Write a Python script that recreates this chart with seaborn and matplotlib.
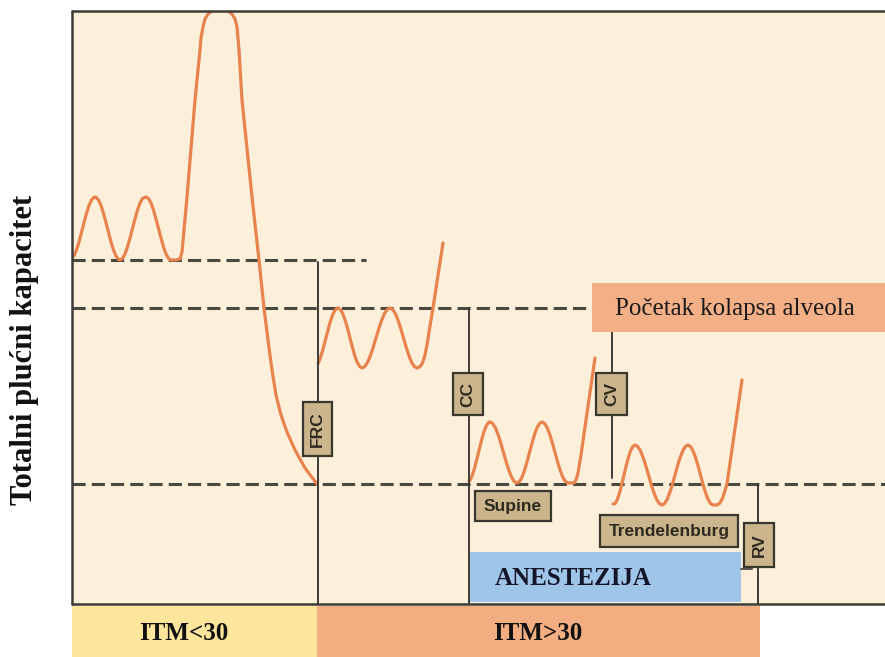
import matplotlib
matplotlib.use("Agg")
import matplotlib.pyplot as plt
import pandas as pd
import seaborn as sns
from matplotlib.patches import Rectangle

# ---------------- data (x = time, y = depth below the TLC line, image units) -------------
normal_x = [74, 76.5, 79, 81.5, 84, 86.5, 89, 91.5, 94, 95, 96, 98.5, 101, 103.5, 106, 108.5,
            111, 113.5, 116, 118.5, 120, 122.5, 125, 127.5, 130, 132.5, 135, 137.5, 140,
            142.5, 145, 146, 148.5, 151, 153.5, 156, 158.5, 161, 163.5, 166, 168.5, 171, 176,
            180, 182, 187, 195, 200, 201, 203, 205, 208, 212, 220, 228, 232, 235, 237, 238,
            239, 242, 252, 259, 264, 268, 272, 276, 281, 287, 295, 305, 317]
normal_y = [256, 250, 242, 232.4, 222.6, 213.4, 205.5, 200, 197.3, 197, 197.3, 200, 205.5, 213.4,
            222.6, 232.4, 242, 250, 256, 259.5, 260, 258.5, 254, 247, 238, 228.5, 219, 210, 203,
            198.5, 197.2, 197, 198.5, 203, 210, 219, 228.5, 238, 247, 254, 258.5, 260, 260,
            259, 252, 197, 100, 50, 38, 27, 19, 14, 11, 10, 11, 14, 19, 27, 38,
            50, 100, 197, 260, 308, 340, 370, 395, 415, 432, 450, 468, 484]

obese_x = [318, 320.4, 322.8, 325.2, 327.6, 330, 332.4, 334.8, 337.2, 338, 340.4, 342.8, 345.2,
           347.6, 350, 352.4, 354.8, 357.2, 359.6, 362, 364.8, 367.6, 370.4, 373.2, 376, 378.8,
           381.6, 384.4, 387.2, 390, 392.7, 395.4, 398.1, 400.8, 403.5, 406.2, 408.9, 411.6,
           414.3, 417, 419.5, 422, 424.5, 427, 430, 433, 443]
obese_y = [363.8, 357.8, 349.9, 340.8, 331.5, 322.7, 315.5, 310.5, 308.1, 308, 309.5, 313.7,
           320.4, 328.7, 338, 347.3, 355.6, 362.3, 366.5, 368, 366.5, 362.3, 355.6, 347.3, 338,
           328.7, 320.4, 313.7, 309.5, 308, 309.5, 313.7, 320.4, 328.7, 338, 347.3, 355.6,
           362.3, 366.5, 368, 367, 364, 357, 345, 326, 308, 243]

supine_x = [469, 470.2, 472.5, 474.8, 477.1, 479.4, 481.7, 484, 486.3, 488.6, 490, 492.7, 495.4,
            498.1, 500.8, 503.5, 506.2, 508.9, 511.6, 514.3, 517, 519.5, 522, 524.5, 527, 529.5,
            532, 534.5, 537, 539.5, 542, 544.6, 547.2, 549.8, 552.4, 555, 557.6, 560.2, 562.8,
            565.4, 568, 574, 576, 578, 581, 586, 595]
supine_y = [481, 480.1, 474.7, 467.2, 458.2, 448.7, 439.5, 431.6, 425.8, 422.5, 422, 423.5, 427.8,
            434.6, 443.1, 452.5, 461.9, 470.4, 477.2, 481.5, 483, 481.5, 477.2, 470.4, 461.9,
            452.5, 443.1, 434.6, 427.8, 423.5, 422, 423.5, 427.8, 434.6, 443.1, 452.5, 461.9,
            470.4, 477.2, 481.5, 483, 483, 480, 473, 455, 420, 358]

trend_x = [613, 615.2, 617.4, 619.6, 621.8, 624, 626.2, 628.4, 630.6, 632.8, 635, 637.7, 640.4,
           643.1, 645.8, 648.5, 651.2, 653.9, 656.6, 659.3, 662, 664.6, 667.2, 669.8, 672.4, 675,
           677.6, 680.2, 682.8, 685.4, 688, 690.5, 693, 695.5, 698, 700.5, 703, 705.5, 708,
           710.5, 713, 717, 720, 723, 727, 742]
trend_y = [504, 503.5, 499.3, 492.6, 484.3, 475, 465.7, 457.4, 450.7, 446.5, 445, 446.5, 450.7,
           457.4, 465.7, 475, 484.3, 492.6, 499.3, 503.5, 505, 503.5, 499.3, 492.6, 484.3, 475,
           465.7, 457.4, 450.7, 446.5, 445, 446.5, 450.7, 457.4, 465.7, 475, 484.3, 492.6,
           499.3, 503.5, 505, 505, 503, 497, 484, 380]

segments = ["ITM<30", "ITM>30", "Supine", "Trendelenburg"]
level_y = [260, 308, 484]
level_x_end = [366, 590, 885]

box_labels = ["FRC", "CC", "CV", "RV"]
pos_labels = ["Supine", "Trendelenburg"]
title_collapse = "Početak kolapsa alveola"
anest_label = "ANESTEZIJA"
bmi_labels = ["ITM<30", "ITM>30"]
ylabel = "Totalni plućni kapacitet"

# ---------------- figure ------------------------------------------------------------------
sns.set_theme(style="white")
plt.rcParams["font.family"] = ["Liberation Serif", "DejaVu Serif"]

W, H = 885, 657
fig = plt.figure(figsize=(W / 100, H / 100), dpi=100)
fig.patch.set_facecolor("white")
ax = fig.add_axes([72 / W, (H - 604) / H, (W - 72) / W, (604 - 11) / H])
ax.set_facecolor("#fdf0da")
for s in ax.spines.values():
    s.set_visible(False)

DARK = "#3d3c35"
ORANGE = "#e8834e"
TAN = "#cbb58c"

df = pd.concat([
    pd.DataFrame({"x": xs, "y": ys, "seg": name})
    for xs, ys, name in zip([normal_x, obese_x, supine_x, trend_x],
                            [normal_y, obese_y, supine_y, trend_y], segments)
], ignore_index=True)

# dashed reference levels
for yv, xe in zip(level_y, level_x_end):
    ax.plot([72, xe], [yv, yv], color="#4a493f", lw=2.2, ls=(0, (4.3, 2.0)),
            zorder=2, clip_on=False)

sns.lineplot(data=df, x="x", y="y", units="seg", estimator=None, sort=False,
             color=ORANGE, lw=2.3, ax=ax, legend=False, zorder=3)
for ln in ax.get_lines():
    ln.set_solid_joinstyle("round")
    ln.set_solid_capstyle("round")

# frame
ax.plot([72, 72], [11, 604], color=DARK, lw=1.8, clip_on=False, zorder=5)
ax.plot([72, 885], [11, 11], color=DARK, lw=1.8, clip_on=False, zorder=5)
ax.plot([72, 885], [604, 604], color=DARK, lw=1.8, clip_on=False, zorder=5)

# vertical measurement lines
vlines = [(318, 262, 604), (469, 308, 604), (612, 332, 478), (758, 484, 604)]
for xv, y0, y1 in vlines:
    ax.plot([xv, xv], [y0, y1], color=DARK, lw=1.4, zorder=4, clip_on=False)

# coloured boxes
ax.add_patch(Rectangle((592, 283), 293, 49, facecolor="#f3b086", edgecolor="none",
                       zorder=6, clip_on=False))
ax.text(615, 309, title_collapse, fontsize=18, color="#1a1a1a", ha="left", va="center",
        zorder=7)
ax.add_patch(Rectangle((470, 552), 271, 50, facecolor="#9fc5e8", edgecolor="none",
                       zorder=6, clip_on=False))
ax.text(495, 578, anest_label, fontsize=18, fontweight="bold", color="#15152a",
        ha="left", va="center", zorder=7)
ax.plot([741, 752, 752], [569, 569, 566], color=DARK, lw=1.2, zorder=6)

ax.add_patch(Rectangle((72, 606), 245, 51, facecolor="#fee59c", edgecolor="none",
                       zorder=6, clip_on=False))
ax.add_patch(Rectangle((317, 606), 443, 51, facecolor="#f2ae80", edgecolor="none",
                       zorder=6, clip_on=False))
ax.text(184, 633, bmi_labels[0], fontsize=18, fontweight="bold", color="#111111",
        ha="center", va="center", zorder=7, clip_on=False)
ax.text(538, 633, bmi_labels[1], fontsize=18, fontweight="bold", color="#111111",
        ha="center", va="center", zorder=7, clip_on=False)

# tan label boxes
tan_boxes = [(303, 402, 29, 54, 90), (453, 373, 30, 42, 90), (596, 373, 31, 42, 90),
             (744, 523, 30, 44, 90), (475, 491, 76, 30, 0), (600, 515, 138, 32, 0)]
for (bx, by, bw, bh, rot), lab in zip(tan_boxes, box_labels + pos_labels):
    ax.add_patch(Rectangle((bx, by), bw, bh, facecolor=TAN, edgecolor="#38372e", lw=1.6,
                           zorder=6))
    ax.text(bx + bw / 2, by + bh / 2, lab, rotation=rot, fontsize=12.5, fontweight="bold",
            family=["Liberation Sans", "DejaVu Sans"], color="#2e2a1f",
            ha="center", va="center", zorder=7)

ax.set_xlim(72, 885)
ax.set_ylim(604, 11)
ax.set_xticks([])
ax.set_yticks([])
ax.set_xlabel("")
ax.set_ylabel(ylabel, fontsize=22, fontweight="bold", color="#111111", va="center")
ax.yaxis.set_label_coords((25 - 72) / 813, (604 - 350) / 593)

fig.savefig("out.png", dpi=100, facecolor="white")
